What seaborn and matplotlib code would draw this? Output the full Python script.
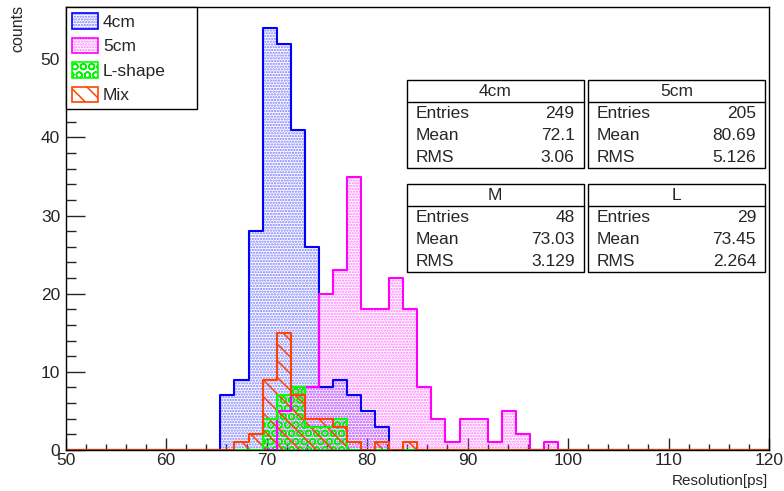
import numpy as np
import pandas as pd
import matplotlib
matplotlib.use("Agg")
import matplotlib.pyplot as plt
from matplotlib.patches import Patch, Rectangle
from matplotlib.ticker import MultipleLocator
import seaborn as sns

# 50 bins of 1.4 ps between 50 and 120; the listed counts start at bin 11 (65.4 ps)
x_min, x_max, n_bins = 50, 120, 50
first_bin = 11

counts_4cm = [7, 9, 28, 54, 52, 41, 26, 8, 9, 7, 5, 3]
counts_5cm = [0, 0, 0, 0, 5, 8, 8, 20, 23, 35, 18, 18, 22, 18, 8, 4, 1, 4, 4, 1, 5, 2, 0, 1]
counts_L = [0, 0, 0, 4, 7, 8, 3, 3, 4]
counts_mix = [0, 1, 2, 9, 15, 7, 4, 4, 3, 1, 0, 1, 0, 1]

legend_labels = ["4cm", "5cm", "L-shape", "Mix"]

# stats boxes
stat_titles = ["4cm", "5cm", "M", "L"]
stat_entries = ["249", "205", "48", "29"]
stat_means = ["72.1", "80.69", "73.03", "73.45"]
stat_rms = ["3.06", "5.126", "3.129", "2.264"]

sns.set_style("white")
plt.rcParams["font.family"] = ["Liberation Sans", "DejaVu Sans"]
plt.rcParams["hatch.linewidth"] = 1.1

W, H = 784, 491
fig = plt.figure(figsize=(W / 100, H / 100), dpi=100)
ax = fig.add_axes([65.7 / W, 1 - 450 / H, (769 - 65.7) / W, (450 - 7) / H])

edges = np.linspace(x_min, x_max, n_bins + 1)
centers = edges[:-1] + (edges[1] - edges[0]) / 2
bin_list = edges.tolist()


def full(counts):
    arr = np.zeros(n_bins)
    arr[first_bin:first_bin + len(counts)] = counts
    return arr


series = [
    # counts, line colour, hatch colour, hatch
    (counts_4cm, "#0000ff", (0.35, 0.35, 1.0, 0.8), "......"),
    (counts_5cm, "#ff00ff", (1.0, 0.35, 1.0, 0.8), "......"),
    (counts_L, "#00ff00", (0.0, 0.95, 0.0, 1.0), "OO"),
    (counts_mix, "#ff4400", (1.0, 0.27, 0.0, 1.0), "\\\\"),
]

for counts, col, hcol, hatch in series:
    df = pd.DataFrame({"res": centers, "w": full(counts)})
    sns.histplot(data=df, x="res", weights="w", bins=bin_list, element="step",
                 fill=True, color=col, facecolor="none", edgecolor=hcol, hatch=hatch,
                 linewidth=0, ax=ax)
    sns.histplot(data=df, x="res", weights="w", bins=bin_list, element="step",
                 fill=False, color=col, linewidth=1.5, ax=ax)

ax.set_xlim(x_min, x_max)
ax.set_ylim(0, 56.7)
ax.set_xlabel("")
ax.set_ylabel("")
for s in ax.spines.values():
    s.set_color("black")
    s.set_linewidth(1.0)

ax.xaxis.set_major_locator(MultipleLocator(10))
ax.xaxis.set_minor_locator(MultipleLocator(2))
ax.yaxis.set_major_locator(MultipleLocator(10))
ax.yaxis.set_minor_locator(MultipleLocator(2))
ax.tick_params(axis="x", which="major", direction="in", length=9, width=1,
               labelsize=12.5, pad=2, bottom=True, top=False)
ax.tick_params(axis="x", which="minor", direction="in", length=4.5, width=1,
               bottom=True, top=False)
ax.tick_params(axis="y", which="major", direction="in", length=14, width=1,
               labelsize=12.5, pad=4, left=True, right=False)
ax.tick_params(axis="y", which="minor", direction="in", length=7, width=1,
               left=True, right=False)

fig.text(18 / W, 1 - 5 / H, "counts", rotation=90, ha="center", va="top", fontsize=11.5)
fig.text(768 / W, 1 - 481 / H, "Resolution[ps]", ha="right", va="center", fontsize=11)

# legend
handles = []
for counts, col, hcol, hatch in series:
    handles.append((Patch(facecolor="none", edgecolor=hcol, hatch=hatch, linewidth=0),
                    Patch(facecolor="none", edgecolor=col, linewidth=1.2)))
leg = ax.legend(handles, legend_labels, loc="upper left",
                bbox_to_anchor=(0, 0, (197 - 65.7) / (769 - 65.7), 1), mode="expand",
                borderaxespad=0, fancybox=False, framealpha=1, edgecolor="black",
                fontsize=12.5, handlelength=1.5, handleheight=1.0,
                labelspacing=0.45, handletextpad=0.3, borderpad=0.35)
leg.get_frame().set_linewidth(1.0)


def fx(x):
    return x / W


def fy(y):
    return 1 - y / H


boxes = [(406.5, 80), (588, 80), (406.5, 184), (588, 184)]
box_w, box_h, head_h = 177, 88, 22
for (x0, y0), title, ent, mean, rms in zip(boxes, stat_titles, stat_entries, stat_means, stat_rms):
    fig.patches.append(Rectangle((fx(x0), fy(y0 + box_h)), box_w / W, box_h / H,
                                 transform=fig.transFigure, facecolor="white",
                                 edgecolor="black", linewidth=1.0, zorder=5))
    fig.add_artist(plt.Line2D([fx(x0), fx(x0 + box_w)], [fy(y0 + head_h)] * 2,
                              transform=fig.transFigure, color="black", linewidth=1.0, zorder=6))
    fig.text(fx(x0 + box_w / 2), fy(y0 + head_h / 2), title, ha="center", va="center",
             fontsize=12.5, zorder=7)
    for i, (name, val) in enumerate([("Entries", ent), ("Mean", mean), ("RMS", rms)]):
        yy = fy(y0 + 33 + 22 * i)
        fig.text(fx(x0 + 9), yy, name, ha="left", va="center", fontsize=12.5, zorder=7)
        fig.text(fx(x0 + box_w - 9), yy, val, ha="right", va="center", fontsize=12.5, zorder=7)

fig.savefig("out.png", dpi=100)
